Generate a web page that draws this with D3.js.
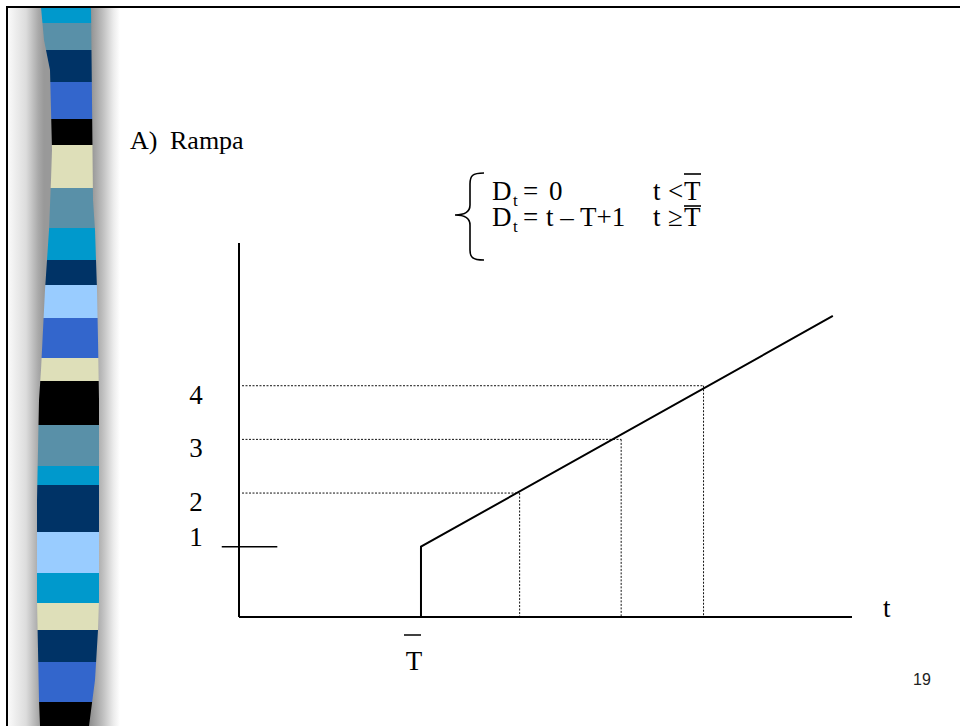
<!DOCTYPE html>
<html>
<head>
<meta charset="utf-8">
<script src="https://cdn.jsdelivr.net/npm/d3@7"></script>
<style>
  body { margin: 0; background: #fff; }
  svg { display: block; }
</style>
</head>
<body>
<div id="viz"></div>
<script>
const width = 960;
const height = 726;

// ramp D_t = t - T + 1, with T = 0 on the t axis
const levels = [1, 2, 3, 4];
const rampT = [0, 4.3];
const rampD = [1, 5.3];
const dropT = [1.03, 2.09, 2.95];
const dropD = [2, 3, 4];
const tickT = [-2.08, -1.5]; // short mark at level 1
const tDomain = [-1.9, 4.5];
const dDomain = [-0.31, 6.66];

// decorative stripe on the left (slide template)
const stripeTops = [7, 23, 50, 82, 119, 145, 188, 228, 260, 285, 318, 358, 381, 425, 466, 485, 532, 573, 603, 630, 662, 702, 726];
const stripeColors = ['#0099cc', '#5990a8', '#003366', '#3366cc', '#000000', '#dedfb9', '#5990a8', '#0099cc', '#003366',
  '#99ccff', '#3366cc', '#dedfb9', '#000000', '#5990a8', '#0099cc', '#003366', '#99ccff', '#0099cc', '#dedfb9',
  '#003366', '#3366cc', '#000000'];
const bandLeft = [[41, 7], [44, 40], [50, 70], [51, 110], [52, 150], [51, 180], [49, 230], [47, 260], [45, 290], [43, 330],
  [41, 370], [39, 400], [38, 450], [37, 500], [37, 600], [38, 650], [39, 700], [40, 726]];
const bandRight = [[91, 7], [92, 100], [93, 200], [95, 230], [97, 290], [98, 340], [99, 400], [99, 600], [98, 630],
  [95, 680], [89, 726]];

const serif = "'Liberation Serif', 'Times New Roman', serif";

const svg = d3.select('#viz')
  .append('svg')
    .attr('width', width)
    .attr('height', height)
    .attr('viewBox', [0, 0, width, height]);

svg.append('rect').attr('width', width).attr('height', height).attr('fill', '#fff');

const defs = svg.append('defs');
const gl = defs.append('linearGradient').attr('id', 'gl')
  .attr('gradientUnits', 'userSpaceOnUse').attr('x1', 8).attr('x2', 44).attr('y1', 0).attr('y2', 0);
gl.append('stop').attr('offset', 0).attr('stop-color', '#fafafa');
gl.append('stop').attr('offset', 0.5).attr('stop-color', '#dcdcdc');
gl.append('stop').attr('offset', 0.85).attr('stop-color', '#a8a8a8');
gl.append('stop').attr('offset', 1).attr('stop-color', '#999');
const gr = defs.append('linearGradient').attr('id', 'gr')
  .attr('gradientUnits', 'userSpaceOnUse').attr('x1', 88).attr('x2', 120).attr('y1', 0).attr('y2', 0);
gr.append('stop').attr('offset', 0).attr('stop-color', '#888');
gr.append('stop').attr('offset', 0.45).attr('stop-color', '#bdbdbd');
gr.append('stop').attr('offset', 0.8).attr('stop-color', '#ececec');
gr.append('stop').attr('offset', 1).attr('stop-color', '#fff');

const bandPoly = bandLeft.concat(bandRight.slice().reverse());
defs.append('clipPath').attr('id', 'band')
  .append('polygon').attr('points', bandPoly.map(p => p.join(',')).join(' '));

svg.append('rect').attr('x', 8).attr('y', 7).attr('width', 48).attr('height', height).attr('fill', 'url(#gl)');
svg.append('rect').attr('x', 86).attr('y', 7).attr('width', 36).attr('height', height).attr('fill', 'url(#gr)');

svg.append('g').attr('clip-path', 'url(#band)')
  .selectAll('rect').data(stripeColors).join('rect')
    .attr('x', 30)
    .attr('width', 80)
    .attr('y', (d, i) => stripeTops[i])
    .attr('height', (d, i) => stripeTops[i + 1] - stripeTops[i])
    .attr('fill', d => d);

// slide frame
svg.append('path')
  .attr('d', `M7,${height} V7 H${width}`)
  .attr('fill', 'none')
  .attr('stroke', '#000')
  .attr('stroke-width', 2);

// title
svg.append('text').attr('x', 130).attr('y', 149).attr('font-family', serif).attr('font-size', 26).text('A)');
svg.append('text').attr('x', 170).attr('y', 149).attr('font-family', serif).attr('font-size', 26).text('Rampa');

// formula with brace
svg.append('path')
  .attr('d', 'M484,173 C472,173 470,176 470,184 L470,205 C470,212 465,215 455,215 C465,215 470,218 470,225 L470,250 C470,257 472,260 484,260')
  .attr('fill', 'none').attr('stroke', '#000').attr('stroke-width', 1.6);

const formula = svg.append('g').attr('font-family', serif).attr('font-size', 27);
const rows = [
  {y: 200, rhs: '0', rhsX: 549, cond: '<', bar: 174},
  {y: 226, rhs: 't \u2013 T+1', rhsX: 546, cond: '\u2265', bar: 206}
];
rows.forEach(r => {
  formula.append('text').attr('x', 492).attr('y', r.y).text('D');
  formula.append('text').attr('x', 513).attr('y', r.y + 6).attr('font-size', 17).text('t');
  formula.append('text').attr('x', 523).attr('y', r.y).text('=');
  formula.append('text').attr('x', r.rhsX).attr('y', r.y).text(r.rhs);
  formula.append('text').attr('x', 653).attr('y', r.y).text('t');
  formula.append('text').attr('x', 668).attr('y', r.y).text(r.cond);
  formula.append('text').attr('x', 684).attr('y', r.y).text('T');
  formula.append('line')
    .attr('x1', 684).attr('x2', 701).attr('y1', r.bar).attr('y2', r.bar)
    .attr('stroke', '#000').attr('stroke-width', 1.6);
});

// chart
const xScale = d3.scaleLinear().domain(tDomain).range([239, 852]);
const yScale = d3.scaleLinear().domain(dDomain).range([617, 243]);

const x0 = xScale(tDomain[0]);
const y0 = yScale(dDomain[0]);

// dotted guides
const guides = svg.append('g')
  .attr('stroke', '#111')
  .attr('stroke-width', 1)
  .attr('stroke-dasharray', '2,1.5')
  .attr('fill', 'none');
guides.selectAll('line.h').data(dropD).join('line')
  .attr('class', 'h')
  .attr('x1', x0 + 3)
  .attr('x2', (d, i) => xScale(dropT[i]))
  .attr('y1', d => yScale(d))
  .attr('y2', d => yScale(d));
guides.selectAll('line.v').data(dropT).join('line')
  .attr('class', 'v')
  .attr('x1', d => xScale(d))
  .attr('x2', d => xScale(d))
  .attr('y1', (d, i) => yScale(dropD[i]))
  .attr('y2', y0);

// axes
svg.append('line')
  .attr('x1', x0).attr('x2', x0)
  .attr('y1', yScale(dDomain[1])).attr('y2', y0)
  .attr('stroke', '#000').attr('stroke-width', 2);
svg.append('line')
  .attr('x1', x0).attr('x2', xScale(tDomain[1]))
  .attr('y1', y0).attr('y2', y0)
  .attr('stroke', '#000').attr('stroke-width', 2);

// mark at level 1
svg.append('line')
  .attr('x1', xScale(tickT[0])).attr('x2', xScale(tickT[1]))
  .attr('y1', yScale(1)).attr('y2', yScale(1))
  .attr('stroke', '#000').attr('stroke-width', 1.5);

// ramp: jump at T then slope
const ramp = [[rampT[0], dDomain[0]], [rampT[0], rampD[0]], [rampT[1], rampD[1]]];
svg.append('path')
  .attr('d', d3.line().x(d => xScale(d[0])).y(d => yScale(d[1]))(ramp))
  .attr('fill', 'none')
  .attr('stroke', '#000')
  .attr('stroke-width', 2);

// level labels
svg.append('g')
  .attr('font-family', serif)
  .attr('font-size', 27)
  .attr('text-anchor', 'middle')
  .selectAll('text').data(levels).join('text')
    .attr('x', 196)
    .attr('y', (d, i) => yScale(d) + (i === 0 ? -1 : 18))
    .text(d => d);

// T bar label
svg.append('text')
  .attr('x', xScale(rampT[0]) - 7).attr('y', 670)
  .attr('text-anchor', 'middle')
  .attr('font-family', serif).attr('font-size', 27)
  .text('T');
svg.append('line')
  .attr('x1', xScale(rampT[0]) - 17).attr('x2', xScale(rampT[0]))
  .attr('y1', 635).attr('y2', 635)
  .attr('stroke', '#000').attr('stroke-width', 1.5);

// axis name
svg.append('text')
  .attr('x', 883).attr('y', 617)
  .attr('font-family', serif).attr('font-size', 27)
  .text('t');

// page number
svg.append('text')
  .attr('x', 913).attr('y', 685)
  .attr('font-family', "'Liberation Sans', Arial, sans-serif").attr('font-size', 16)
  .attr('fill', '#222')
  .text('19');
</script>
</body>
</html>
